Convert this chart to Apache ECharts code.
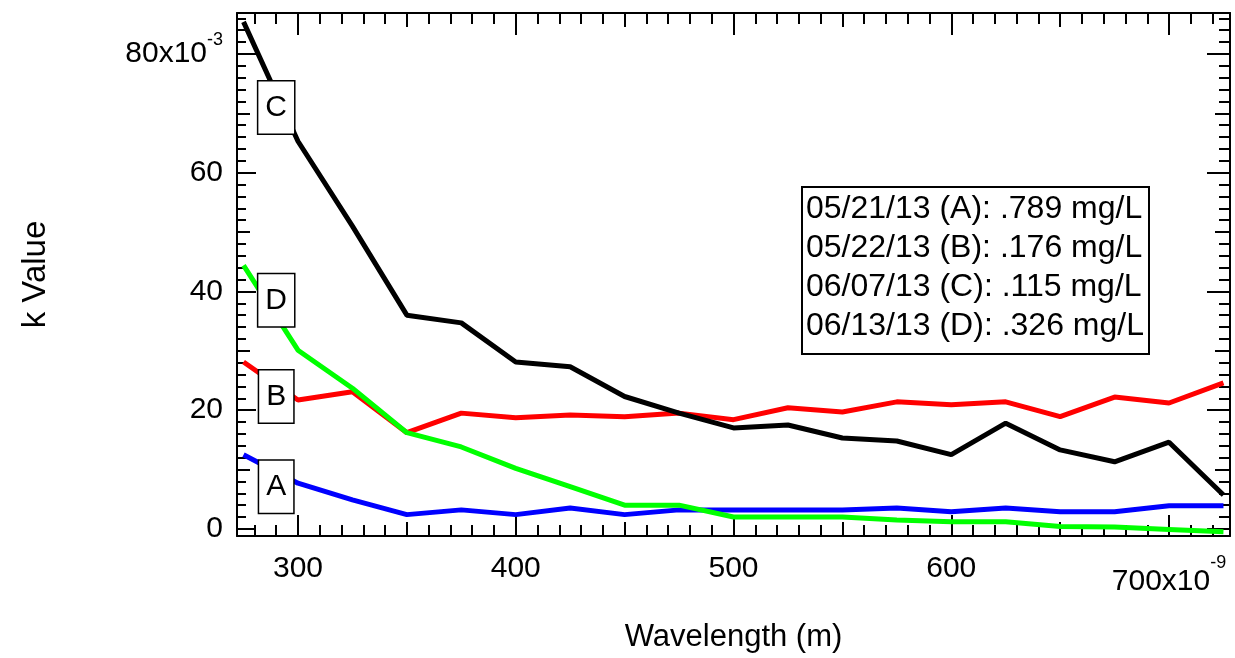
<!DOCTYPE html>
<html>
<head>
<meta charset="utf-8">
<script src="https://cdn.jsdelivr.net/npm/echarts@6/dist/echarts.min.js"></script>
<style>
html, body { margin: 0; padding: 0; background: #fff; }
#chart { width: 1235px; height: 658px; }
</style>
</head>
<body>
<div id="chart"></div>
<script>
// wavelength in 1e-9 m, k in 1e-3
var wavelengths = [275, 300, 325, 350, 375, 400, 425, 450, 475, 500, 525, 550, 575, 600, 625, 650, 675, 700, 725];
var kA = [12.5, 7.7, 4.9, 2.4, 3.2, 2.4, 3.5, 2.4, 3.2, 3.2, 3.2, 3.2, 3.5, 2.9, 3.5, 2.9, 2.9, 3.9, 3.9];
var kB = [28.1, 21.7, 23.1, 16.2, 19.5, 18.7, 19.2, 18.9, 19.5, 18.4, 20.4, 19.7, 21.4, 20.9, 21.4, 18.9, 22.2, 21.2, 24.6];
var kC = [85.4, 65.3, 51.0, 36.0, 34.7, 28.1, 27.3, 22.3, 19.5, 17.0, 17.5, 15.3, 14.8, 12.5, 17.8, 13.3, 11.3, 14.6, 5.7];
var kD = [44.4, 30.1, 23.7, 16.2, 13.8, 10.2, 7.1, 4.0, 4.0, 2.0, 2.0, 2.0, 1.5, 1.2, 1.2, 0.4, 0.3, -0.1, -0.5];

// A..D tags sitting on the curves
var tagLetters = ['A', 'B', 'C', 'D'];
var tagX = [290, 290, 290, 290];
var tagY = [7.1, 22.3, 71.0, 38.5];

var legendLines = [
  '05/21/13 (A): .789 mg/L',
  '05/22/13 (B): .176 mg/L',
  '06/07/13 (C): .115 mg/L',
  '06/13/13 (D): .326 mg/L'
];

var xRange = [272, 728];
var yRange = [-1.2, 86.9];
var xMajor = [300, 400, 500, 600, 700];
var xMid = [350, 450, 550, 650];
var yMajor = [0, 20, 40, 60, 80];
var yMid = [10, 30, 50, 70];
var xMinor = [];
for (var i = 280; i <= 720; i += 10) {
  if (i % 50 != 0) xMinor.push(i);
}
var yMinor = [];
for (var j = 2; j <= 86; j += 2) {
  if (j % 10 != 0) yMinor.push(j);
}

var font = 'Liberation Sans, Arial, sans-serif';

function pairs(vals) {
  return wavelengths.map(function (w, i) { return [w, vals[i]]; });
}

function tickAxis(pos, range, ticks, len, showLine) {
  return {
    type: 'value',
    position: pos,
    min: range[0],
    max: range[1],
    splitLine: { show: false },
    axisLine: { show: showLine, onZero: false, lineStyle: { color: '#000', width: 2 } },
    axisTick: { show: true, inside: true, length: len, customValues: ticks,
      lineStyle: { color: '#000', width: 2 } },
    axisLabel: { show: false }
  };
}

var xMain = tickAxis('bottom', xRange, xMajor, 21, true);
xMain.name = 'Wavelength (m)';
xMain.nameLocation = 'middle';
xMain.nameGap = 86;
xMain.nameTextStyle = { fontSize: 31, color: '#000', fontFamily: font };
xMain.axisLabel = {
  show: true,
  customValues: xMajor,
  margin: 18,
  fontSize: 30,
  color: '#000',
  fontFamily: font,
  formatter: function (v) {
    return v === 700 ? '{a|700x10}{sup|-9}' : String(v);
  },
  rich: {
    a: { fontSize: 30, color: '#000', fontFamily: font, verticalAlign: 'bottom' },
    sup: { fontSize: 18, color: '#000', fontFamily: font, verticalAlign: 'top', lineHeight: 43 }
  }
};

var yMain = tickAxis('left', yRange, yMajor, 19, true);
yMain.name = 'k Value';
yMain.nameLocation = 'middle';
yMain.nameGap = 185;
yMain.nameTextStyle = { fontSize: 33, color: '#000', fontFamily: font };
yMain.axisLabel = {
  show: true,
  customValues: yMajor,
  margin: 14,
  fontSize: 30,
  color: '#000',
  fontFamily: font,
  formatter: function (v) {
    return v === 80 ? '{a|80x10}{sup|-3}' : String(v);
  },
  rich: {
    a: { fontSize: 30, color: '#000', fontFamily: font },
    sup: { fontSize: 18, color: '#000', fontFamily: font, verticalAlign: 'top', lineHeight: 46 }
  }
};

var chart = echarts.init(document.getElementById('chart'));

var option = {
  animation: false,
  backgroundColor: '#fff',
  title: {
    text: legendLines.join('\n'),
    left: 802,
    top: 187,
    padding: [3, 5, 8, 4],
    borderColor: '#000',
    borderWidth: 2,
    backgroundColor: '#fff',
    textStyle: { fontSize: 32, fontWeight: 'normal', lineHeight: 39, color: '#000', fontFamily: font }
  },
  grid: { left: 237, right: 5, top: 13, bottom: 122, containLabel: false, outerBoundsMode: 'none' },
  xAxis: [
    xMain,
    tickAxis('bottom', xRange, xMid, 14, false),
    tickAxis('bottom', xRange, xMinor, 11, false),
    tickAxis('top', xRange, xMajor, 22, true),
    tickAxis('top', xRange, xMid, 14, false),
    tickAxis('top', xRange, xMinor, 11, false)
  ],
  yAxis: [
    yMain,
    tickAxis('left', yRange, yMid, 13, false),
    tickAxis('left', yRange, yMinor, 9, false),
    tickAxis('right', yRange, yMajor, 23, true),
    tickAxis('right', yRange, yMid, 15, false),
    tickAxis('right', yRange, yMinor, 11, false)
  ],
  series: [
    { name: 'A', type: 'line', data: pairs(kA), symbol: 'none',
      lineStyle: { color: '#0000ff', width: 5 }, z: 2 },
    { name: 'B', type: 'line', data: pairs(kB), symbol: 'none',
      lineStyle: { color: '#ff0000', width: 5 }, z: 2 },
    { name: 'C', type: 'line', data: pairs(kC), symbol: 'none',
      lineStyle: { color: '#000000', width: 5 }, z: 2 },
    { name: 'D', type: 'line', data: pairs(kD), symbol: 'none',
      lineStyle: { color: '#00ff00', width: 5 }, z: 2 },
    {
      name: 'tags',
      type: 'scatter',
      z: 10,
      symbolSize: 1,
      itemStyle: { color: '#fff', opacity: 1 },
      data: tagX.map(function (x, i) { return [x, tagY[i], tagLetters[i]]; }),
      label: {
        show: true,
        position: 'inside',
        formatter: function (p) { return p.data[2]; },
        fontSize: 30,
        color: '#000',
        opacity: 1,
        fontFamily: font,
        backgroundColor: '#fff',
        borderColor: '#000',
        borderWidth: 1.5,
        padding: [11, 7, 11, 7]
      }
    }
  ]
};

chart.setOption(option);
</script>
</body>
</html>
